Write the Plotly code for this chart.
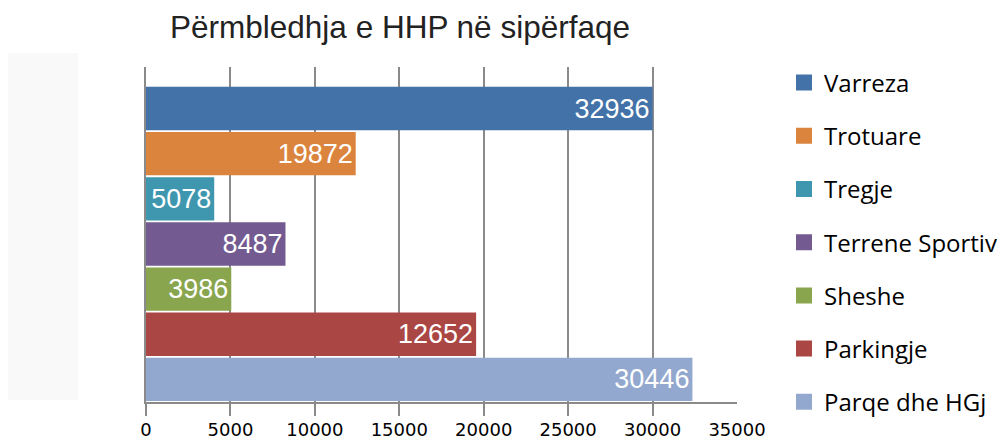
import plotly.graph_objects as go

# ---- data ----
categories = ["Varreza", "Trotuare", "Tregje", "Terrene Sportive", "Sheshe", "Parkingje", "Parqe dhe HGj"]
bar_values = [30000, 12420, 4040, 8260, 5050, 19550, 32360]          # bar lengths on the axis
label_values = [32936, 19872, 5078, 8487, 3986, 12652, 30446]        # printed data labels
colors = ["#4272A7", "#DB843D", "#3F97AF", "#735A90", "#89A54E", "#AA4643", "#92A8CE"]
tick_values = [0, 5000, 10000, 15000, 20000, 25000, 30000]
label_ticks = [0, 5000, 10000, 15000, 20000, 25000, 30000, 35000]

# the page body adds an 8px margin, so the figure is sized to fill the window exactly
OFF = 8
W, H = 1005 - OFF, 439 - OFF
L, R, T, B = 146 - OFF, 1005 - 737, 67 - OFF, 439 - 402
pw, ph = W - L - R, H - T - B

fig = go.Figure()

for cat, v, lab, c in zip(categories, bar_values, label_values, colors):
    fig.add_trace(go.Bar(
        y=[cat], x=[v], orientation="h",
        marker=dict(color=c, line=dict(width=0)),
        text=[str(lab)], textposition="inside", insidetextanchor="end",
        textfont=dict(family="Liberation Sans", size=27, color="white"),
        showlegend=False, hoverinfo="skip",
    ))

# legend entries (square swatches)
for i, (cat, c) in enumerate(zip(categories, colors)):
    fig.add_trace(go.Scatter(
        x=[None], y=[None], mode="markers", xaxis="x2",
        marker=dict(symbol="square", size=18, color=c),
        name=cat, legendgroup=f"g{i}", showlegend=True,
    ))

gray = "#8A8A8A"
fig.update_layout(
    width=W, height=H,
    margin=dict(l=L, r=R, t=T, b=B, autoexpand=False),
    paper_bgcolor="white", plot_bgcolor="white",
    barmode="relative", bargap=0.04,
    title=dict(text="Përmbledhja e HHP në sipërfaqe",
               font=dict(family="Liberation Sans", size=31.5, color="#222222"),
               x=(400 - OFF) / W, xref="container", xanchor="center",
               y=1 - (27 - OFF) / H, yref="container", yanchor="middle"),
    xaxis=dict(range=[0, 35000], tickvals=tick_values, showticklabels=False,
               ticks="outside", ticklen=12, tickwidth=2, tickcolor=gray,
               showline=True, linecolor=gray, linewidth=2,
               showgrid=True, gridcolor=gray, gridwidth=2, zeroline=False,
               fixedrange=True),
    xaxis2=dict(range=[0, 35000], overlaying="x", anchor="y", side="bottom",
                tickvals=label_ticks, ticktext=[str(t) for t in label_ticks],
                ticks="outside", ticklen=11, tickcolor="rgba(0,0,0,0)",
                showline=False, showgrid=False, zeroline=False,
                tickfont=dict(family="DejaVu Sans", size=18, color="black")),
    yaxis=dict(categoryorder="array", categoryarray=categories[::-1],
               range=[-0.5, 6.92], showticklabels=False, ticks="",
               showline=True, linecolor=gray, linewidth=2,
               showgrid=False, zeroline=False),
    legend=dict(x=(784 - OFF) / W, xref="container", xanchor="left",
                y=1 - (60.5 - OFF) / H, yref="container", yanchor="top",
                maxheight=H,
                font=dict(family="Open Sans", size=24, color="black"),
                tracegroupgap=19, bgcolor="rgba(0,0,0,0)", itemsizing="trace"),
    shapes=[dict(type="rect", xref="paper", yref="paper",
                 x0=(8 - 146) / pw, x1=(78 - 146) / pw,
                 y0=(402 - 400) / ph, y1=(402 - 53) / ph,
                 fillcolor="#F8F9F8", line=dict(width=0), layer="below")],
)

fig.write_html("out.html")
